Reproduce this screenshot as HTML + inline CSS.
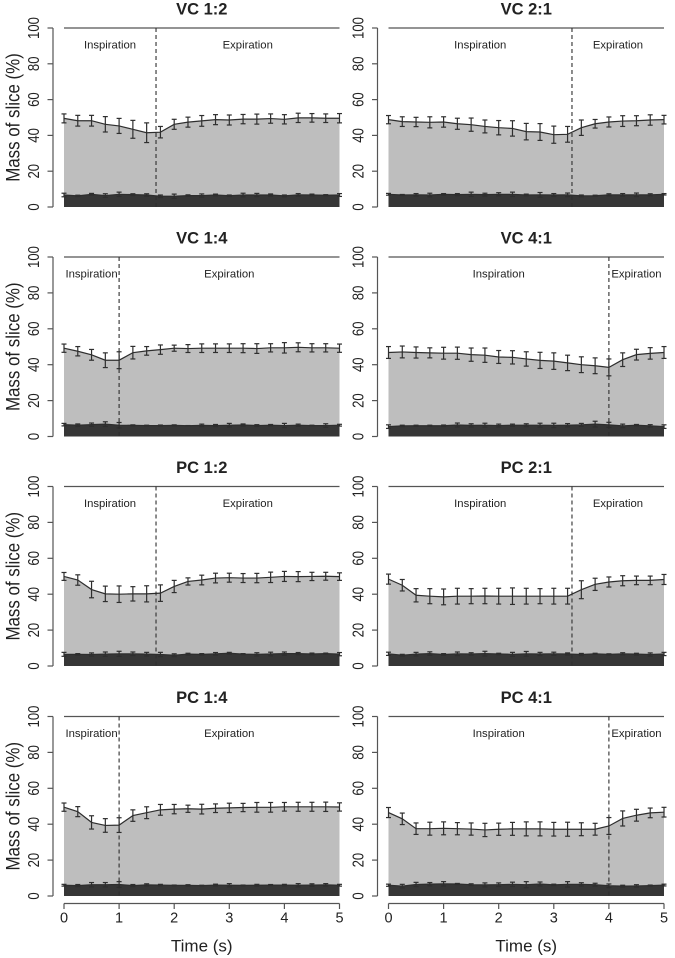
<!DOCTYPE html>
<html>
<head>
<meta charset="utf-8">
<title>Mass of slice over time</title>
<style>
html,body{margin:0;padding:0;background:#fff;}
body{width:675px;height:958px;overflow:hidden;}
svg{display:block;filter:blur(0.35px);}
text{font-family:"Liberation Sans",sans-serif;fill:#222;}
</style>
</head>
<body>
<svg id="chart" xmlns="http://www.w3.org/2000/svg" width="675" height="958" viewBox="0 0 675 958"></svg>
<script>
var timePoints = [0,0.25,0.5,0.75,1,1.25,1.5,1.75,2,2.25,2.5,2.75,3,3.25,3.5,3.75,4,4.25,4.5,4.75,5];
var yTickLabels = [0,20,40,60,80,100];
var xTickLabels = [0,1,2,3,4,5];
var panelTitles = ["VC 1:2","VC 2:1","VC 1:4","VC 4:1","PC 1:2","PC 2:1","PC 1:4","PC 4:1"];
var phaseEnds = [1.67,3.33,1,4,1.67,3.33,1,4];

var vc12Upper = [49.5,48.2,48.2,46.2,45.3,43.4,41.5,41.8,46.2,47.4,48.1,48.8,48.6,49.1,49.1,49.4,49,49.8,49.8,49.6,49.6];
var vc12UpperErr = [2.5,3,3,4.3,4.2,5,5.5,3.2,2.8,2.8,3,2.8,2.8,2.6,2.8,2.6,2.6,2.6,2.4,2.4,2.6];
var vc12Lower = [6.7,6.2,7.1,6.4,7.1,6.9,6.7,6,6,6.4,6.4,6.7,6.3,6.7,6.7,6.7,6.2,6.8,6.7,6.6,6.7];
var vc12LowerErr = [1,0.4,0.5,1,1.2,0.5,0.7,0.7,1.2,0.4,0.9,0.5,0.4,1,0.9,0.6,0.5,0.7,0.5,0.3,0.8];

var vc21Upper = [48.8,47.7,47.5,47.3,47.5,46.5,46,45,44.3,43.9,42.1,41.9,40.4,40.6,44.3,46.5,47.5,48,48.2,48.6,48.8];
var vc21UpperErr = [2.3,2.7,2.6,3.1,2.9,3.1,3.7,3.6,4,4.3,4.6,4.7,4.8,4.4,4.3,2.4,2.8,3,2.8,2.9,2.4];
var vc21Lower = [7.1,6.7,6.8,6.7,7.1,6.9,7.1,6.9,7.1,7.1,6.7,6.8,6.7,6.8,6.2,6.3,6.8,6.8,6.8,6.8,7.1];
var vc21LowerErr = [0.5,0.3,0.7,1,0.4,0.6,1.2,0.8,0.9,1.2,0.5,1.3,0.8,1,0.5,0.3,0.6,0.7,1,0.6,0.4];

var vc14Upper = [49.2,47.5,45.5,42.5,42.5,46.7,47.7,48.4,49.2,49,49.2,49.2,49.2,49.2,49,49.4,49.4,49.7,49.4,49.4,49.2];
var vc14UpperErr = [2.3,2.6,3,4.1,4.7,3.5,2.4,2.6,1.7,2.2,2.4,2.4,2.4,2.5,2.7,2.3,2.9,2.5,2.3,2.3,2.3];
var vc14Lower = [6.6,6.3,6.6,6.9,6.3,6.2,6.1,6.1,6.2,6,6.2,6.1,6.3,6.4,6.1,6.3,6.1,6.3,6.1,6.1,6.3];
var vc14LowerErr = [0.7,0.7,0.9,1.3,1.5,0.3,0.2,0.3,0.3,0.1,0.7,0.6,1,0.6,0.5,0.4,1.2,0.6,0.2,1,0.5];

var vc41Upper = [46.8,47.1,46.8,46.6,46.4,46.4,45.6,45.3,44.3,44.1,43.2,42.4,42,41,40,39.4,38.5,42.8,45.6,46.3,46.8];
var vc41UpperErr = [3.3,3.3,3.1,2.8,3.3,3.4,3.7,4,3.6,3.7,4,4.5,4.6,4.3,4.4,4.4,4.7,3.8,3,3.2,3.3];
var vc41Lower = [5.5,5.9,6,6,6,6.4,6.2,6.3,6.1,6.3,6.3,6.3,6.2,6.3,6.5,6.9,6.5,5.9,6.3,5.9,5.5];
var vc41LowerErr = [1,0.4,0.3,0.3,0.4,1.1,0.9,1.1,0.8,0.6,0.8,1.1,1.2,0.9,0.8,1.6,1.4,1,0.4,0.7,1];

var pc12Upper = [49.9,47.9,42.6,40.2,40,40.2,40.2,40.6,44.3,47.1,47.9,49,49.2,49,49,49.4,49.9,49.8,49.9,50,49.8];
var pc12UpperErr = [2.2,2.9,4.6,4.3,4.6,4,4.5,4.6,3.4,2,2.7,2.7,2.5,2.5,2.6,2.9,2.8,2.8,2.3,2.2,2.1];
var pc12Lower = [6.5,6.5,6.4,6.6,6.8,6.8,6.6,6.4,6,6.6,6.5,6.8,7.1,6.6,6.5,6.7,6.9,6.9,6.7,6.9,6.6];
var pc12LowerErr = [1.1,0.4,0.9,1.2,1.4,1,1,1.2,0.8,0.5,0.4,0.7,0.5,0.3,0.9,1,0.9,0.6,0.5,0.3,0.9];

var pc21Upper = [48.4,45,39.4,38.9,38.5,38.9,38.9,39,38.9,38.9,38.9,38.9,38.9,38.9,42.5,45.5,46.8,47.5,47.7,47.7,48.2];
var pc21UpperErr = [2.8,3.2,3.7,4.2,4.4,4.4,4.2,4.3,4.4,4.6,4.4,4.2,4.4,4.4,5,3.4,2.8,2.8,2.4,2.4,2.8];
var pc21Lower = [6.8,6,6.6,6.9,6.4,6.8,6.7,6.9,6.7,6.5,6.8,6.7,6.8,6.7,6.4,6.8,6.5,6.8,6.6,6.4,6.7];
var pc21LowerErr = [0.9,0.5,1,1,0.5,1,0.7,1.3,0.4,1.1,1.3,0.9,0.9,0.6,0.6,0.3,0.3,0.6,0.5,0.9,0.9];

var pc14Upper = [49.5,47,41,39.3,39.5,44.8,46.4,48,48.4,48.6,48.4,48.9,49.1,49.3,49.4,49.4,49.7,49.7,49.7,49.7,49.6];
var pc14UpperErr = [2.3,2.8,3.7,3.8,4.1,3.2,3.3,3,2.6,2,2.7,2.4,2.6,2.3,2.7,2.7,2.4,2.5,2.5,2.6,2.3];
var pc14Lower = [6,5.8,6.3,6.3,6.4,5.8,6.2,6.1,5.9,5.9,5.8,6.1,6,5.9,6,6.1,6.1,6,6.1,6.2,6];
var pc14LowerErr = [0.5,0.6,1.2,1.2,1.6,0.6,0.6,0.4,0.2,0.4,0.2,0.5,0.9,0.2,0.5,0.3,0.4,0.9,0.7,0.7,0.5];

var pc41Upper = [46.5,43,37.5,37.5,37.7,37.5,37.3,36.8,37.2,37.4,37.4,37.4,37.2,37.2,37.2,37.2,39,43.2,45,46.3,46.7];
var pc41UpperErr = [2.8,3.2,3.2,3.6,3.6,3.4,3.4,3.7,3.4,3.6,3.9,3.9,3.8,3.9,3.6,3.3,4.7,4.2,3.3,2.7,2.7];
var pc41Lower = [6,5.5,6.4,6.6,6.8,6.7,6.3,6.2,6.3,6.5,6.3,6.7,6.2,6.5,6.5,6.3,5.7,5.5,5.6,5.8,6.1];
var pc41LowerErr = [0.6,1,1.2,0.9,1.2,0.3,0.5,1.1,1,1.2,1.7,1.1,0.4,1.5,0.9,0.8,1,0.5,0.7,0.3,0.5];

var upperSeries = [vc12Upper,vc21Upper,vc14Upper,vc41Upper,pc12Upper,pc21Upper,pc14Upper,pc41Upper];
var upperErrors = [vc12UpperErr,vc21UpperErr,vc14UpperErr,vc41UpperErr,pc12UpperErr,pc21UpperErr,pc14UpperErr,pc41UpperErr];
var lowerSeries = [vc12Lower,vc21Lower,vc14Lower,vc41Lower,pc12Lower,pc21Lower,pc14Lower,pc41Lower];
var lowerErrors = [vc12LowerErr,vc21LowerErr,vc14LowerErr,vc41LowerErr,pc12LowerErr,pc21LowerErr,pc14LowerErr,pc41LowerErr];

var NS = "http://www.w3.org/2000/svg";
var svg = document.getElementById("chart");
var AXIS = "#555", INK = "#2e2e2e";

function make(tag, parent, props) {
  var node = document.createElementNS(NS, tag);
  for (var k in props) node.setAttribute(k, props[k]);
  parent.appendChild(node);
  return node;
}
function line(parent, x1, y1, x2, y2, stroke, width) {
  return make("line", parent, {x1:x1, y1:y1, x2:x2, y2:y2, stroke:stroke, "stroke-width":width});
}
function label(parent, str, x, y, size, weight) {
  var t = make("text", parent, {x:x, y:y, "font-size":size, "font-weight":weight, "text-anchor":"middle", "dominant-baseline":"central"});
  t.textContent = str;
  return t;
}
function rotatedLabel(parent, str, x, y, size, squeeze) {
  var t = make("text", parent, {x:0, y:0, "font-size":size, "text-anchor":"middle", "dominant-baseline":"central",
    transform:"translate(" + x + " " + y + ") rotate(-90) scale(" + squeeze + ",1)"});
  t.textContent = str;
  return t;
}

function drawPanel(i) {
  var col = i % 2, row = Math.floor(i / 2);
  var left = col === 0 ? 64 : 388.5;
  var right = col === 0 ? 339.5 : 664;
  var axisX = col === 0 ? 53 : 377.5;
  var top = [28, 257, 486.5, 716.5][row];
  var bottom = [207, 436.5, 666, 896][row];
  var xScale = function (t) { return left + (right - left) * t / 5; };
  var yScale = function (v) { return bottom - (bottom - top) * v / 100; };

  var g = make("g", svg, {});
  
  

  var upper = upperSeries[i], upperErr = upperErrors[i], lower = lowerSeries[i], lowerErr = lowerErrors[i];

  function areaPoints(values) {
    var pts = [xScale(0) + "," + yScale(0)];
    for (var n = 0; n < timePoints.length; n++) pts.push(xScale(timePoints[n]) + "," + yScale(values[n]));
    pts.push(xScale(5) + "," + yScale(0));
    return pts.join(" ");
  }
  function linePoints(values) {
    var pts = [];
    for (var n = 0; n < timePoints.length; n++) pts.push(xScale(timePoints[n]) + "," + yScale(values[n]));
    return pts.join(" ");
  }

  var upperArea = make("polygon", g, {points:areaPoints(upper), fill:"#bebebe"});
  
  
  var lowerArea = make("polygon", g, {points:areaPoints(lower), fill:"#363636"});
  
  

  var upperLine = make("polyline", g, {points:linePoints(upper), fill:"none", stroke:INK, "stroke-width":1.2});
  
  
  var lowerLine = make("polyline", g, {points:linePoints(lower), fill:"none", stroke:INK, "stroke-width":1.2});
  
  

  function errorBars(values, errs, name) {
    var eg = make("g", g, {});
    
    
    for (var n = 0; n < timePoints.length; n++) {
      var x = xScale(timePoints[n]);
      var hi = yScale(values[n] + errs[n]), lo = yScale(values[n] - errs[n]);
      line(eg, x, hi, x, lo, INK, 1.2);
      line(eg, x - 2.5, hi, x + 2.5, hi, INK, 1.2);
      line(eg, x - 2.5, lo, x + 2.5, lo, INK, 1.2);
    }
  }
  errorBars(upper, upperErr, "upper-error-bars");
  errorBars(lower, lowerErr, "lower-error-bars");

  var topLine = line(g, xScale(0), top, xScale(5), top, AXIS, 1.2);
  
  

  var divider = line(g, xScale(phaseEnds[i]), top, xScale(phaseEnds[i]), bottom, INK, 1.1);
  divider.setAttribute("stroke-dasharray", "4 3");
  
  

  var insp = label(g, "Inspiration", xScale(phaseEnds[i] / 2), top + 17.5, 11.3, "normal");
  
  
  var exp = label(g, "Expiration", xScale((phaseEnds[i] + 5) / 2), top + 17.5, 11.3, "normal");
  
  

  var title = label(g, panelTitles[i], (left + right) / 2, top - 18.5, 16.5, "bold");
  
  

  var yAxis = make("g", g, {});
  
  
  line(yAxis, axisX, top, axisX, bottom, AXIS, 1.2);
  for (var a = 0; a < yTickLabels.length; a++) {
    var yy = yScale(yTickLabels[a]);
    line(yAxis, axisX - 5.5, yy, axisX, yy, AXIS, 1.2);
    var yl = rotatedLabel(yAxis, String(yTickLabels[a]), axisX - 18.5, yy, 15.5, 0.85);
    
    
  }

  if (col === 0) {
    var yTitle = rotatedLabel(g, "Mass of slice (%)", 13, (top + bottom) / 2, 19, 0.89);
    
    
  }

  if (row === 3) {
    var xAxis = make("g", g, {});
    
    
    var axisY = 903.5;
    line(xAxis, xScale(0), axisY, xScale(5), axisY, AXIS, 1.2);
    for (var b = 0; b < xTickLabels.length; b++) {
      var xx = xScale(xTickLabels[b]);
      line(xAxis, xx, axisY, xx, axisY + 5.5, AXIS, 1.2);
      var xl = label(xAxis, String(xTickLabels[b]), xx, 918.5, 14.5, "normal");
      
      
    }
    var xTitle = label(g, "Time (s)", (left + right) / 2, 946, 17, "normal");
    
    
  }
}

for (var p = 0; p < panelTitles.length; p++) drawPanel(p);
</script>
</body>
</html>
